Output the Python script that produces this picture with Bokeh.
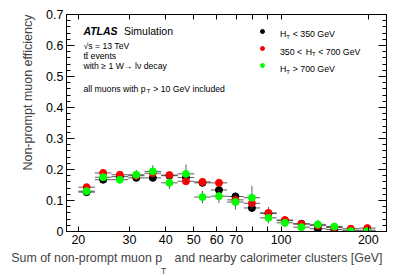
import math
from bokeh.plotting import figure
from bokeh.models import (ColumnDataSource, FixedTicker, LinearAxis, LogAxis,
                          Label, Legend, LegendItem, Title)
from bokeh.embed import file_html
from bokeh.resources import INLINE

# ---------------- data ----------------
bin_edges = [20.0, 22.8, 26.0, 29.7, 33.8, 38.6, 44.0, 50.2, 57.2, 65.2,
             74.3, 84.7, 96.6, 110.1, 125.5, 143.0, 163.0, 185.8, 211.8]

eff_low = [0.127, 0.167, 0.177, 0.173, 0.173, 0.180, 0.174, 0.157, 0.134,
           0.113, 0.076, 0.058, 0.035, 0.025, 0.009, 0.006, 0.004, 0.004]
err_low = [0.006, 0.006, 0.006, 0.006, 0.007, 0.008, 0.010, 0.010, 0.013,
           0.013, 0.012, 0.010, 0.008, 0.006, 0.005, 0.004, 0.003, 0.003]

eff_mid = [0.143, 0.189, 0.183, 0.180, 0.188, 0.182, 0.162, 0.160, 0.157,
           0.102, 0.091, 0.060, 0.037, 0.024, 0.019, 0.013, 0.009, 0.011]
err_mid = [0.006, 0.007, 0.007, 0.008, 0.009, 0.010, 0.011, 0.012, 0.013,
           0.015, 0.016, 0.019, 0.010, 0.008, 0.007, 0.005, 0.004, 0.004]

eff_high = [0.130, 0.175, 0.167, 0.183, 0.194, 0.157, 0.186, 0.111, 0.114,
            0.095, 0.109, 0.044, 0.028, 0.014, 0.023, 0.016, 0.001, 0.001]
err_high = [0.008, 0.010, 0.012, 0.016, 0.020, 0.020, 0.030, 0.020, 0.022,
            0.024, 0.038, 0.018, 0.014, 0.012, 0.013, 0.010, 0.005, 0.005]

series_names = ["low", "mid", "high"]
series_colors = ["#000000", "#ff0000", "#00ff00"]

xtick_values = [20, 30, 40, 50, 60, 70, 80, 90, 100, 200]
xtick_labels = ["20", "30", "40", "50", "60", "70", "", "", "100", "200"]
ytick_values = [0.0, 0.1, 0.2, 0.3, 0.4, 0.5, 0.6, 0.7]
ytick_labels = ["0", "0.1", "0.2", "0.3", "0.4", "0.5", "0.6", "0.7"]

FONT = "Liberation Sans"

# ---------------- figure ----------------
p = figure(width=407, height=276, x_axis_type="log",
           x_range=(18.2, 231), y_range=(0, 0.7),
           output_backend="svg", toolbar_location=None,
           min_border_left=66, min_border_right=21,
           min_border_top=14, min_border_bottom=45)
p.xgrid.visible = False
p.ygrid.visible = False
p.outline_line_color = "black"
p.outline_line_width = 1
p.background_fill_color = "white"
p.border_fill_color = "white"

yminor = [round(i * 0.02, 2) for i in range(36)]
xt = FixedTicker(ticks=xtick_values, minor_ticks=[])
yt = FixedTicker(ticks=ytick_values, minor_ticks=yminor)

xa = p.xaxis[0]
xa.ticker = xt
xa.major_label_overrides = {float(v): l for v, l in zip(xtick_values, xtick_labels)}
ya = p.yaxis[0]
ya.ticker = yt
ya.major_label_overrides = {v: l for v, l in zip(ytick_values, ytick_labels)}

for ax in (xa, ya):
    ax.major_tick_in = 8
    ax.major_tick_out = 0
    ax.minor_tick_in = 4
    ax.minor_tick_out = 0
    ax.major_label_text_font = FONT
    ax.major_label_text_font_size = "12.5px"
    ax.major_label_text_color = "black"
    ax.major_label_standoff = 3
    ax.axis_line_color = "black"
    ax.major_tick_line_color = "black"
    ax.minor_tick_line_color = "black"
xa.major_tick_in = 5

top = LogAxis(ticker=FixedTicker(ticks=xtick_values, minor_ticks=[]),
              major_label_text_font_size="1px", major_label_text_color=None,
              major_label_standoff=0, major_tick_in=5,
              major_tick_out=0, minor_tick_out=0, axis_line_color=None)
right = LinearAxis(ticker=FixedTicker(ticks=ytick_values, minor_ticks=yminor),
                   major_label_text_font_size="1px", major_label_text_color=None,
                   major_label_standoff=0, major_tick_in=8,
                   major_tick_out=0, minor_tick_in=4, minor_tick_out=0,
                   axis_line_color=None)
p.add_layout(top, "above")
p.add_layout(right, "right")

# axis titles (side-panel titles so they are not clipped by the frame)
p.add_layout(Title(text="Non-prompt muon efficiency", align="right",
                   text_font=FONT, text_font_size="12.5px",
                   text_font_style="normal", standoff=18), "left")
p.add_layout(Title(text="Sum of non-prompt muon p\u2003and nearby calorimeter clusters [GeV]",
                   align="right", offset=4, text_font=FONT,
                   text_font_size="12.4px", text_font_style="normal",
                   standoff=5), "below")
p.add_layout(Title(text="T", align="left", offset=94.5, text_font=FONT,
                   text_font_size="8.5px", text_font_style="normal",
                   standoff=-7), "below")

# ---------------- data marks ----------------
centers = [math.sqrt(a * b) for a, b in zip(bin_edges[:-1], bin_edges[1:])]
values = {"low": (eff_low, err_low), "mid": (eff_mid, err_mid),
          "high": (eff_high, err_high)}

marker_renderers = []
for name, color in zip(series_names, series_colors):
    eff, err = values[name]
    src = ColumnDataSource(dict(
        x=centers, y=eff, lo=bin_edges[:-1], hi=bin_edges[1:],
        ylo=[e - d for e, d in zip(eff, err)],
        yhi=[e + d for e, d in zip(eff, err)]))
    p.segment(x0="lo", y0="y", x1="hi", y1="y", source=src,
              line_color="#333333", line_width=1, line_alpha=0.8)
    p.segment(x0="x", y0="ylo", x1="x", y1="yhi", source=src,
              line_color="#333333", line_width=1, line_alpha=0.8)
    r = p.scatter(x="x", y="y", source=src, size=7, marker="circle",
                  fill_color=color, line_color=color)
    marker_renderers.append(r)

legend = Legend(items=[LegendItem(label=" ", renderers=[r]) for r in marker_renderers],
                location=(191, 161), glyph_width=10, glyph_height=10,
                label_height=10, label_width=1, spacing=7, padding=0, margin=0,
                label_standoff=0, border_line_alpha=0, background_fill_alpha=0,
                label_text_font_size="1px", label_text_color=None)
p.add_layout(legend)


# ---------------- texts inside the frame ----------------
def fx(X):
    return 20 * 10 ** ((X - 77.7) / 290)


def fy(Y):
    return (231 - Y) / 310


def txt(X, Y, s, size, align="left", style="normal"):
    p.add_layout(Label(x=fx(X), y=fy(Y), text=s, text_font=FONT,
                       text_font_size=f"{size}px", text_font_style=style,
                       text_align=align, text_baseline="alphabetic",
                       text_color="black"))


txt(82.7, 30.5, "ATLAS", 10.5, style="bold italic")
txt(123.3, 30.5, "Simulation", 10.5)
txt(82.7, 45.8, "√s = 13 TeV", 8.7)
txt(82.7, 55.4, "tt̄ events", 8.7)
txt(82.7, 65.8, "with ≥ 1 W→ lν decay", 8.7)
txt(82.7, 88.0, "all muons with p", 8.7)
txt(146.0, 90.5, "T", 6)
txt(152.5, 88.0, "> 10 GeV included", 8.7)

# legend texts
txt(279.3, 33.7, "H", 8.8)
txt(285.6, 36.2, "T", 6)
txt(292.0, 33.7, "< 350 GeV", 8.8)
txt(279.3, 51.3, "350 <", 8.8)
txt(305.0, 51.3, "H", 8.8)
txt(311.3, 53.8, "T", 6)
txt(317.5, 51.3, "< 700 GeV", 8.8)
txt(279.3, 68.7, "H", 8.8)
txt(285.6, 71.2, "T", 6)
txt(292.0, 68.7, "> 700 GeV", 8.8)

open("out.html", "w").write(file_html(p, INLINE))
